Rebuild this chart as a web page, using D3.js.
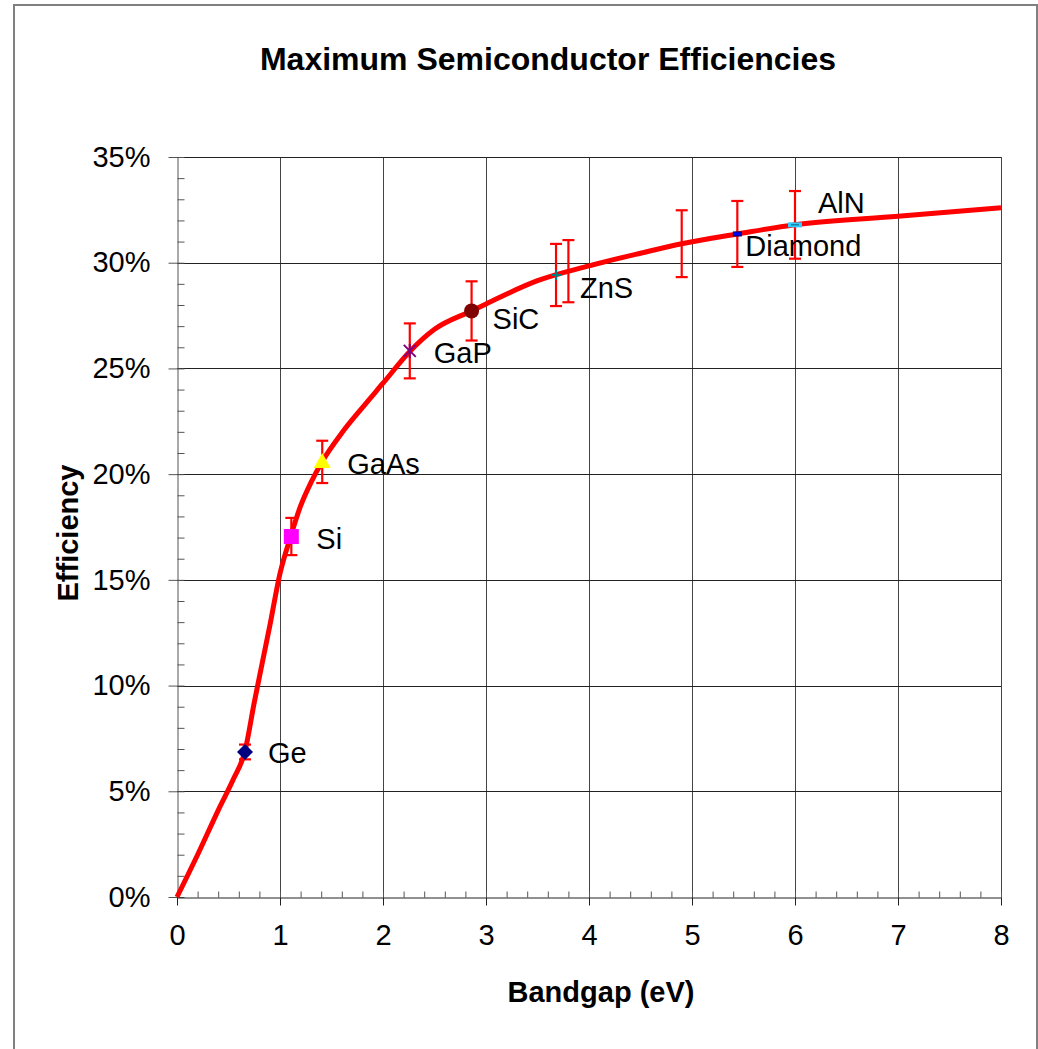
<!DOCTYPE html>
<html>
<head>
<meta charset="utf-8">
<script src="https://cdn.jsdelivr.net/npm/d3@7"></script>
<style>
  body { margin: 0; background: #fff; }
  text { font-family: "Liberation Sans", Arial, sans-serif; }
</style>
</head>
<body>
<svg></svg>
<script>
// theoretical efficiency curve (bandgap eV, efficiency %)
const curveBandgap    = [0, 0.2, 0.4, 0.55, 0.66, 0.75, 0.9, 1.0, 1.1, 1.2, 1.3, 1.41, 1.6, 1.8, 2.0, 2.26, 2.5, 2.86, 3.0, 3.5, 4.0, 4.5, 4.9, 5.44, 6.0, 7.0, 8.0];
const curveEfficiency = [0, 2.0, 4.1, 5.6, 6.9, 9.2, 12.8, 15.3, 17.0, 18.5, 19.6, 20.6, 21.95, 23.15, 24.3, 25.8, 26.85, 27.72, 28.05, 29.15, 29.85, 30.45, 30.9, 31.36, 31.8, 32.2, 32.6];

// semiconductors
const materials          = ["Ge", "Si", "GaAs", "GaP", "SiC", "ZnS", "Diamond", "AlN"];
const materialBandgap    = [0.66, 1.11, 1.41, 2.26, 2.86, 3.68, 5.44, 6.0];
const materialEfficiency = [6.86, 17.05, 20.58, 25.83, 27.72, 29.42, 31.36, 31.79];
const materialError      = [0.35, 0.88, 1.0, 1.3, 1.4, 1.47, 1.56, 1.6];

// error bars without a marker
const extraBandgap    = [3.8, 4.9];
const extraEfficiency = [29.6, 30.9];
const extraError      = [1.47, 1.58];

const xTicks = [0, 1, 2, 3, 4, 5, 6, 7, 8];
const yTicks = [0, 5, 10, 15, 20, 25, 30, 35];

// marker look and label placement
const markerStyle = {
  Ge:      { shape: "diamond",  color: "#000080" },
  Si:      { shape: "square",   color: "#ff00ff" },
  GaAs:    { shape: "triangle", color: "#ffff00" },
  GaP:     { shape: "star",     color: "#800080" },
  SiC:     { shape: "circle",   color: "#800000" },
  ZnS:     { shape: "plus",     color: "#008080" },
  Diamond: { shape: "dash",     color: "#0000ff" },
  AlN:     { shape: "wdash",    color: "#33ccff" }
};
const labelOffset = {
  Ge: [23, 11], Si: [25, 12], GaAs: [25, 12], GaP: [24, 12],
  SiC: [21, 18], ZnS: [24, 23], Diamond: [8, 22], AlN: [23, -12]
};

const width = 1038, height = 1049;
const plotLeft = 177, plotRight = 1001, plotTop = 157, plotBottom = 897;

const svg = d3.select("svg").attr("width", width).attr("height", height);

// outer chart frame
svg.append("rect")
  .attr("x", 14).attr("y", 5)
  .attr("width", 1023).attr("height", 1100)
  .attr("fill", "none").attr("stroke", "#808080").attr("stroke-width", 2);

const x = d3.scaleLinear().domain([0, 8]).range([plotLeft, plotRight]);
const y = d3.scaleLinear().domain([0, 35]).range([plotBottom, plotTop]);

// gridlines
svg.append("g")
  .selectAll("line").data(xTicks.slice(1)).enter().append("line")
  .attr("x1", d => Math.round(x(d)) + 0.5).attr("x2", d => Math.round(x(d)) + 0.5)
  .attr("y1", plotTop).attr("y2", plotBottom)
  .attr("stroke", "#444");
svg.append("g")
  .selectAll("line").data(yTicks.slice(1)).enter().append("line")
  .attr("y1", d => Math.round(y(d)) + 0.5).attr("y2", d => Math.round(y(d)) + 0.5)
  .attr("x1", plotLeft).attr("x2", plotRight)
  .attr("stroke", "#222");

// minor ticks
svg.append("g")
  .attr("transform", `translate(${plotLeft + 0.5},0)`)
  .call(d3.axisRight(y).tickValues(d3.range(0, 35.01, 1)).tickSize(7).tickFormat(""))
  .call(g => g.select(".domain").remove())
  .call(g => g.selectAll("line").attr("stroke", "#555"));
svg.append("g")
  .attr("transform", `translate(0,${plotBottom + 0.5})`)
  .call(d3.axisTop(x).tickValues(d3.range(0, 8.01, 0.2)).tickSize(6).tickFormat(""))
  .call(g => g.select(".domain").remove())
  .call(g => g.selectAll("line").attr("stroke", "#555"));

// y-axis
svg.append("g")
  .attr("transform", `translate(${plotLeft + 0.5},0)`)
  .call(d3.axisLeft(y).tickValues(yTicks).tickSize(9).tickSizeOuter(0).tickPadding(18).tickFormat(d => d + "%"))
  .call(g => g.selectAll("path, line").attr("stroke", "#555"))
  .selectAll("text")
  .attr("fill", "#000")
  .attr("font-size", "29px");

// x-axis
svg.append("g")
  .attr("transform", `translate(0,${plotBottom + 0.5})`)
  .call(d3.axisBottom(x).tickValues(xTicks).tickSize(8).tickSizeOuter(0).tickPadding(19))
  .call(g => g.selectAll("path, line").attr("stroke", "#222"))
  .selectAll("text")
  .attr("fill", "#000")
  .attr("font-size", "29px");

// chart title
svg.append("text")
  .attr("x", 548).attr("y", 70)
  .attr("text-anchor", "middle")
  .attr("font-size", "32px").attr("font-weight", "bold")
  .text("Maximum Semiconductor Efficiencies");

// x-axis title
svg.append("text")
  .attr("x", 601).attr("y", 1002)
  .attr("text-anchor", "middle")
  .attr("font-size", "29px").attr("font-weight", "bold")
  .text("Bandgap (eV)");

// y-axis title
svg.append("text")
  .attr("transform", `translate(78,533) rotate(-90)`)
  .attr("text-anchor", "middle")
  .attr("font-size", "29px").attr("font-weight", "bold")
  .text("Efficiency");

// efficiency curve
const curveData = curveBandgap.map((b, i) => ({ b, e: curveEfficiency[i] }));
const line = d3.line()
  .x(d => x(d.b))
  .y(d => y(d.e))
  .curve(d3.curveMonotoneX);
svg.append("path")
  .attr("d", line(curveData))
  .attr("fill", "none")
  .attr("stroke", "#ff0000")
  .attr("stroke-width", 5)
  .attr("stroke-linejoin", "round");

// error bars
const points = materials.map((m, i) => ({
  name: m, b: materialBandgap[i], e: materialEfficiency[i], err: materialError[i]
}));
const extras = extraBandgap.map((b, i) => ({ b, e: extraEfficiency[i], err: extraError[i] }));
const bars = svg.append("g").attr("stroke", "#ff0000").attr("stroke-width", 2.2);
points.concat(extras).forEach(d => {
  const cx = x(d.b), y1 = y(d.e + d.err), y2 = y(d.e - d.err);
  bars.append("line").attr("x1", cx).attr("x2", cx).attr("y1", y1).attr("y2", y2);
  bars.append("line").attr("x1", cx - 6).attr("x2", cx + 6).attr("y1", y1).attr("y2", y1);
  bars.append("line").attr("x1", cx - 6).attr("x2", cx + 6).attr("y1", y2).attr("y2", y2);
});

// markers
const marks = svg.append("g");
points.forEach(d => {
  const st = markerStyle[d.name];
  const g = marks.append("g").attr("transform", `translate(${x(d.b)},${y(d.e)})`);
  if (st.shape === "diamond") {
    g.append("path").attr("d", "M0,-8L8,0L0,8L-8,0Z").attr("fill", st.color);
  } else if (st.shape === "square") {
    g.append("rect").attr("x", -7.5).attr("y", -7.5).attr("width", 15).attr("height", 15).attr("fill", st.color);
  } else if (st.shape === "triangle") {
    g.append("path").attr("d", "M0,-9L8.5,6L-8.5,6Z").attr("fill", st.color);
  } else if (st.shape === "circle") {
    g.append("circle").attr("r", 7.5).attr("fill", st.color);
  } else if (st.shape === "star") {
    g.append("path").attr("d", "M-6,-6L6,6M-6,6L6,-6M0,-7L0,7")
      .attr("stroke", st.color).attr("stroke-width", 2).attr("fill", "none");
  } else if (st.shape === "plus") {
    g.append("path").attr("d", "M-5,0L5,0M0,-5L0,5")
      .attr("stroke", st.color).attr("stroke-width", 2).attr("fill", "none");
  } else if (st.shape === "dash") {
    g.append("rect").attr("x", -4).attr("y", -2).attr("width", 8).attr("height", 4)
      .attr("fill", st.color).attr("stroke", "#000060").attr("stroke-width", 1);
  } else if (st.shape === "wdash") {
    g.append("rect").attr("x", -7).attr("y", -2.5).attr("width", 14).attr("height", 5)
      .attr("fill", st.color);
    g.append("line").attr("x1", -4).attr("x2", 4).attr("stroke", "#006080").attr("stroke-width", 1);
  }
});

// material labels
svg.append("g")
  .selectAll("text").data(points).enter().append("text")
  .attr("x", d => x(d.b) + labelOffset[d.name][0])
  .attr("y", d => y(d.e) + labelOffset[d.name][1])
  .attr("font-size", "29px")
  .text(d => d.name);
</script>
</body>
</html>
